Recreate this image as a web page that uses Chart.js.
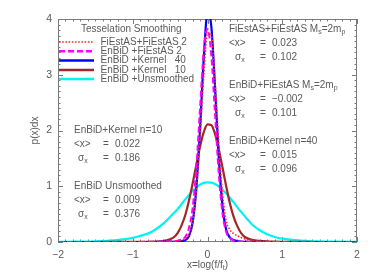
<!DOCTYPE html>
<html>
<head>
<meta charset="utf-8">
<script src="https://cdn.jsdelivr.net/npm/chart.js@4/dist/chart.umd.min.js"></script>
<style>
html,body{margin:0;padding:0;background:#fff;}
#c{display:block;}
</style>
</head>
<body>
<canvas id="c" width="374" height="280"></canvas>
<script>
// ---- data ----
const xs = [-2,-1.75,-1.5,-1.25,-1,-0.9,-0.8,-0.7,-0.6,-0.5,-0.45,-0.4,-0.35,-0.3,-0.25,-0.2,-0.15,-0.1,-0.05,0,0.05,0.1,0.15,0.2,0.25,0.3,0.35,0.4,0.45,0.5,0.6,0.7,0.8,0.9,1,1.25,1.5,1.75,2];
const fiestasFiestas = [0,0,0,0,0.001,0.001,0.002,0.003,0.005,0.008,0.012,0.02,0.035,0.06,0.13,0.35,0.91,1.86,2.98,3.75,3.72,2.90,1.77,0.88,0.38,0.22,0.15,0.11,0.08,0.055,0.028,0.013,0.006,0.003,0.002,0.001,0,0,0];
const enbidFiestas = [0,0,0,0,0.001,0.002,0.003,0.005,0.008,0.012,0.018,0.025,0.045,0.09,0.24,0.60,1.32,2.40,3.44,3.82,3.37,2.31,1.24,0.52,0.18,0.07,0.03,0.015,0.008,0.005,0.003,0.002,0.001,0,0,0,0,0,0];
const enbidKernel40 = [0,0,0,0,0,0,0,0,0.001,0.002,0.003,0.006,0.012,0.03,0.10,0.34,0.95,2.02,3.30,4.10,3.88,2.80,1.54,0.65,0.22,0.08,0.035,0.015,0.008,0.004,0.002,0.001,0,0,0,0,0,0,0];
const enbidKernel10 = [0,0,0,0.001,0.002,0.003,0.004,0.007,0.015,0.05,0.085,0.16,0.29,0.47,0.73,1.04,1.38,1.71,1.97,2.11,2.10,1.94,1.67,1.34,1.00,0.69,0.45,0.28,0.16,0.09,0.04,0.02,0.01,0.005,0.003,0.001,0,0,0];
const enbidUnsmoothed = [0.004,0.007,0.013,0.03,0.075,0.11,0.15,0.22,0.32,0.45,0.52,0.59,0.675,0.76,0.84,0.92,0.98,1.03,1.06,1.07,1.065,1.04,1.00,0.94,0.87,0.79,0.71,0.62,0.54,0.46,0.31,0.21,0.14,0.09,0.06,0.025,0.01,0.005,0.003];
const xTickValues = [-2,-1,0,1,2];
const yTickValues = [0,1,2,3,4];
const legendLabels = ['FiEstAS+FiEstAS 2','EnBiD +FiEstAS 2','EnBiD +Kernel   40','EnBiD +Kernel   10','EnBiD +Unsmoothed'];

const TXT = '#5a5a5a';
const AX = '#7a7a7a';
const FAM = '"Liberation Sans", Arial, sans-serif';
const FONT = '10px ' + FAM;
const SUBFONT = '7px ' + FAM;

function series(arr){ return xs.map((x,i)=>({x:x,y:arr[i]})); }

const styles = [
  {color:'#ff2a2a', width:1.6, dash:[1.6,1.6]},
  {color:'#ff00ff', width:2, dash:[6,3]},
  {color:'#0000ff', width:2.2, dash:[]},
  {color:'#a02828', width:2.2, dash:[]},
  {color:'#00f4f4', width:2.2, dash:[]}
];
const allSeries = [fiestasFiestas, enbidFiestas, enbidKernel40, enbidKernel10, enbidUnsmoothed];

const datasets = allSeries.map((arr,i)=>({
  label: legendLabels[i],
  data: series(arr),
  borderColor: styles[i].color,
  borderWidth: styles[i].width,
  borderDash: styles[i].dash,
  pointRadius: 0,
  fill: false,
  cubicInterpolationMode: 'monotone'
}));

function rich(ctx, x, y, segs){
  let cx = x;
  for (const s of segs){
    if (s[1]){
      ctx.font = SUBFONT;
      ctx.fillText(s[0], cx, y+3);
    } else {
      ctx.font = FONT;
      ctx.fillText(s[0], cx, y);
    }
    cx += ctx.measureText(s[0]).width;
  }
  ctx.font = FONT;
}

const framePlugin = {
  id:'frame',
  beforeDatasetsDraw(chart){
    const {ctx, chartArea:a, scales:{x, y}} = chart;
    ctx.save();
    ctx.strokeStyle = AX;
    ctx.lineWidth = 1;
    ctx.strokeRect(a.left+0.5, a.top+0.5, a.right-a.left-1, a.bottom-a.top-1);
    ctx.beginPath();
    for (let i=-20;i<=20;i++){
      const v = i/10;
      const px = Math.round(x.getPixelForValue(v))+0.5;
      const len = (i%10===0)?5:2.5;
      ctx.moveTo(px, a.bottom); ctx.lineTo(px, a.bottom-len);
      ctx.moveTo(px, a.top); ctx.lineTo(px, a.top+len);
    }
    for (let i=0;i<=40;i++){
      const v = i/10;
      const py = Math.round(y.getPixelForValue(v))+0.5;
      const len = (i%10===0)?5:2.5;
      ctx.moveTo(a.left, py); ctx.lineTo(a.left+len, py);
      ctx.moveTo(a.right, py); ctx.lineTo(a.right-len, py);
    }
    ctx.stroke();
    ctx.restore();
  },
  afterDraw(chart){
    const {ctx, chartArea:a} = chart;
    ctx.save();
    ctx.fillStyle = TXT;
    ctx.font = FONT;
    ctx.textBaseline = 'middle';
    ctx.textAlign = 'left';
    ctx.fillText('Tesselation Smoothing', 81, 29.5);
    const ly = [42, 51.3, 60.5, 70, 79];
    for (let i=0;i<5;i++){
      ctx.save();
      ctx.strokeStyle = styles[i].color;
      ctx.lineWidth = styles[i].width + (i===0?0:0.4);
      ctx.setLineDash(styles[i].dash);
      ctx.beginPath();
      ctx.moveTo(a.left+1, ly[i]); ctx.lineTo(94, ly[i]);
      ctx.stroke();
      ctx.restore();
      ctx.fillText(legendLabels[i], 100.5, ly[i]);
    }
    rich(ctx, 229, 29.5, [['FiEstAS+FiEstAS M'],['s',1],['=2m'],['p',1]]);
    ctx.fillText('<x>', 229, 43); ctx.fillText('=', 260, 43); ctx.fillText('0.023', 272, 43);
    rich(ctx, 235, 57, [['σ'],['x',1]]); ctx.fillText('=', 260, 57); ctx.fillText('0.102', 272, 57);
    rich(ctx, 229, 85.5, [['EnBiD+FiEstAS M'],['s',1],['=2m'],['p',1]]);
    ctx.fillText('<x>', 229, 99); ctx.fillText('=', 260, 99); ctx.fillText('−0.002', 272, 99);
    rich(ctx, 235, 113, [['σ'],['x',1]]); ctx.fillText('=', 260, 113); ctx.fillText('0.101', 272, 113);
    ctx.fillText('EnBiD+Kernel n=40', 229, 141);
    ctx.fillText('<x>', 229, 155); ctx.fillText('=', 260, 155); ctx.fillText('0.015', 272, 155);
    rich(ctx, 235, 169, [['σ'],['x',1]]); ctx.fillText('=', 260, 169); ctx.fillText('0.096', 272, 169);
    ctx.fillText('EnBiD+Kernel n=10', 74, 130.5);
    ctx.fillText('<x>', 74, 144.5); ctx.fillText('=', 103, 144.5); ctx.fillText('0.022', 115, 144.5);
    rich(ctx, 78, 158.5, [['σ'],['x',1]]); ctx.fillText('=', 103, 158.5); ctx.fillText('0.186', 115, 158.5);
    ctx.fillText('EnBiD Unsmoothed', 74, 186.5);
    ctx.fillText('<x>', 74, 200.5); ctx.fillText('=', 103, 200.5); ctx.fillText('0.009', 115, 200.5);
    rich(ctx, 78, 214.5, [['σ'],['x',1]]); ctx.fillText('=', 103, 214.5); ctx.fillText('0.376', 115, 214.5);
    const segs = [['x=log(f/f'],['t',1],[')']];
    let w = 0;
    for (const s of segs){ ctx.font = s[1]?SUBFONT:FONT; w += ctx.measureText(s[0]).width; }
    const cx = (a.left + a.right)/2 - w/2;
    rich(ctx, cx, 265.5, segs);
    ctx.restore();
  }
};

new Chart(document.getElementById('c'), {
  type: 'line',
  data: { datasets: datasets },
  options: {
    responsive: false,
    animation: false,
    devicePixelRatio: 1,
    layout: { padding: { top: 19, right: 17, left: 0, bottom: 0 } },
    plugins: { legend: { display: false }, tooltip: { enabled: false } },
    scales: {
      x: {
        type: 'linear', min: -2, max: 2,
        afterBuildTicks: s => { s.ticks = xTickValues.map(v=>({value:v})); },
        afterFit: s => { s.height = 38; },
        grid: { display: false, drawTicks: false },
        border: { display: false },
        ticks: {
          color: TXT, padding: 7,
          font: { family: FAM, size: 10.5 },
          callback: v => String(v).replace('-', '−')
        }
      },
      y: {
        type: 'linear', min: 0, max: 4,
        afterBuildTicks: s => { s.ticks = yTickValues.map(v=>({value:v})); },
        afterFit: s => { s.width = 58; },
        grid: { display: false, drawTicks: false },
        border: { display: false },
        ticks: {
          color: TXT, padding: 6,
          font: { family: FAM, size: 10.5 }
        },
        title: {
          display: true, text: 'p(x)dx', color: TXT,
          font: { family: FAM, size: 10 },
          padding: { top: 29, bottom: 0 }
        }
      }
    }
  },
  plugins: [framePlugin]
});
</script>
</body>
</html>
